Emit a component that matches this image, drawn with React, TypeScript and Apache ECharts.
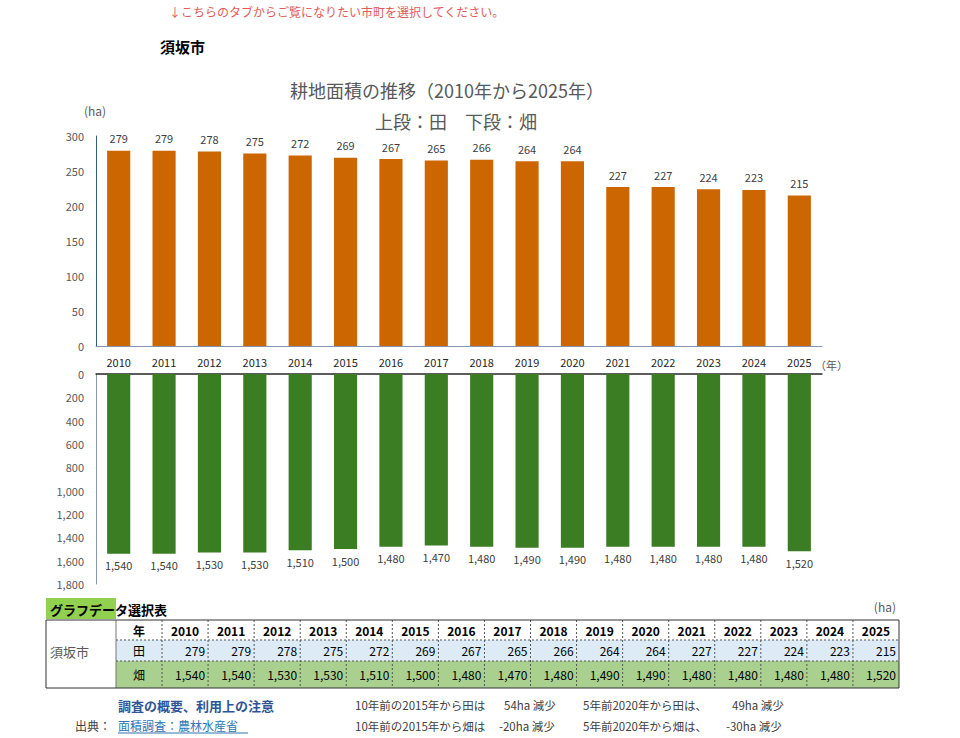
import React, { useEffect, useRef } from "react";
import * as echarts from "echarts";

const years = ["2010","2011","2012","2013","2014","2015","2016","2017","2018","2019","2020","2021","2022","2023","2024","2025"];
const paddy = [279,279,278,275,272,269,267,265,266,264,264,227,227,224,223,215];
const field = [1540,1540,1530,1530,1510,1500,1480,1470,1480,1490,1490,1480,1480,1480,1480,1520];
const upperTicks = { min: 0, max: 300, interval: 50 };
const lowerTicks = { min: 0, max: 1800, interval: 200 };

const cityName = "須坂市";
const noticeText = "↓こちらのタブからご覧になりたい市町を選択してください。";
const titleText = "耕地面積の推移（2010年から2025年）";
const subTitleText = "上段：田　下段：畑";

const FONT = '"Noto Sans CJK JP", "Noto Sans", sans-serif';
const fmt = (v: number) => v.toLocaleString("en-US");

export default function App() {
  const ref = useRef<HTMLDivElement>(null);
  useEffect(() => {
    document.body.style.margin = "0";
    const chart = echarts.init(ref.current!, null, { renderer: "svg" });

    const gridLeft = 96, gridW = 726;
    const g: any[] = [];
    const txt = (x: number, y: number, text: string, font: string, fill: string, align = "left", extra: any = {}) =>
      g.push({ type: "text", x, y, style: { text, font, fill, align, verticalAlign: "middle", ...extra } });

    txt(169, 11, noticeText, `12px ${FONT}`, "#e05a5a");
    txt(160, 46, cityName, `bold 15px ${FONT}`, "#000");
    txt(447, 90, titleText, `18px ${FONT}`, "#595959", "center");
    txt(456, 121, subTitleText, `18px ${FONT}`, "#595959", "center");
    txt(84, 110, "(ha)", `12px ${FONT}`, "#595959");
    txt(815, 365, "（年）", `11px ${FONT}`, "#595959");
    txt(798, 269, "田", `bold 14px ${FONT}`, "#fff", "center");
    txt(798, 460, "畑", `bold 14px ${FONT}`, "#fff", "center");

    // table
    const tTop = 620, r1 = 640, r2 = 661, tBot = 688;
    const xL = 46, xC = 116, xY = 162, xR = 899;
    const colW = (xR - xY) / years.length;
    g.push({ type: "rect", shape: { x: xL, y: 598, width: 70, height: 21 }, style: { fill: "#92d050" } });
    txt(50, 609, "グラフデータ選択表", `bold 13px ${FONT}`, "#000");
    txt(896, 606, "(ha)", `12px ${FONT}`, "#595959", "right");
    g.push({ type: "rect", shape: { x: xC, y: r1, width: xR - xC, height: r2 - r1 }, style: { fill: "#ddebf7" } });
    g.push({ type: "rect", shape: { x: xC, y: r2, width: xR - xC, height: tBot - r2 }, style: { fill: "#a9d08e" } });
    const dash = { stroke: "#555", lineWidth: 1, lineDash: [2, 2] };
    g.push({ type: "line", shape: { x1: xC, y1: r1, x2: xR, y2: r1 }, style: dash });
    g.push({ type: "line", shape: { x1: xC, y1: r2, x2: xR, y2: r2 }, style: dash });
    for (let i = 0; i < years.length; i++) {
      const x = xY + i * colW;
      g.push({ type: "line", shape: { x1: x, y1: tTop, x2: x, y2: tBot }, style: dash });
    }
    g.push({ type: "line", shape: { x1: xC, y1: tTop, x2: xC, y2: tBot }, style: { stroke: "#777", lineWidth: 1 } });
    g.push({ type: "rect", shape: { x: xL, y: tTop, width: xR - xL, height: tBot - tTop }, style: { fill: "none", stroke: "#333", lineWidth: 1 } });
    txt(50, 651, cityName, `13px ${FONT}`, "#595959");
    txt((xC + xY) / 2, (tTop + r1) / 2, "年", `bold 12px ${FONT}`, "#000", "center");
    txt((xC + xY) / 2, (r1 + r2) / 2, "田", `12px ${FONT}`, "#000", "center");
    txt((xC + xY) / 2, (r2 + tBot) / 2, "畑", `12px ${FONT}`, "#000", "center");
    years.forEach((y, i) => {
      const x0 = xY + i * colW;
      txt(x0 + colW / 2, (tTop + r1) / 2, y, `bold 12px ${FONT}`, "#000", "center");
      txt(x0 + colW - 3, (r1 + r2) / 2, String(paddy[i]), `12px ${FONT}`, "#000", "right");
      txt(x0 + colW - 3, (r2 + tBot) / 2, fmt(field[i]), `12px ${FONT}`, "#000", "right");
    });

    // footer
    const idx = (y: string) => years.indexOf(y);
    const last = years.length - 1;
    const p10 = paddy[idx("2015")] - paddy[last];
    const p5 = paddy[idx("2020")] - paddy[last];
    const f10 = field[idx("2015")] - field[last];
    const f5 = field[idx("2020")] - field[last];
    txt(118, 705, "調査の概要、利用上の注意", `bold 13px ${FONT}`, "#2f5597");
    txt(75, 725, "出典：", `12px ${FONT}`, "#404040");
    txt(118, 725, "面積調査：農林水産省", `12px ${FONT}`, "#2e75b6");
    g.push({ type: "line", shape: { x1: 118, y1: 733, x2: 248, y2: 733 }, style: { stroke: "#2e75b6", lineWidth: 1 } });
    const ft = `11.5px ${FONT}`;
    txt(355, 705, "10年前の2015年から田は", ft, "#404040");
    txt(504, 705, `${p10}ha 減少`, ft, "#404040");
    txt(583, 705, "5年前2020年から田は、", ft, "#404040");
    txt(732, 705, `${p5}ha 減少`, ft, "#404040");
    txt(355, 726, "10年前の2015年から畑は", ft, "#404040");
    txt(499, 726, `${f10}ha 減少`, ft, "#404040");
    txt(583, 726, "5年前2020年から畑は、", ft, "#404040");
    txt(726, 726, `${f5}ha 減少`, ft, "#404040");

    chart.setOption({
      animation: false,
      textStyle: { fontFamily: FONT },
      grid: [
        { left: gridLeft, top: 136, width: gridW, height: 210 },
        { left: gridLeft, top: 374, width: gridW, height: 210 },
      ],
      xAxis: [
        {
          type: "category", gridIndex: 0, data: years,
          axisLine: { lineStyle: { color: "#8497b0", width: 1 } },
          axisTick: { show: false },
          axisLabel: { color: "#262626", fontSize: 11, margin: 10, interval: 0 },
        },
        {
          type: "category", gridIndex: 1, data: years, position: "top",
          axisLine: { lineStyle: { color: "#262626", width: 1.5 } },
          axisTick: { show: false },
          axisLabel: { show: false },
        },
      ],
      yAxis: [
        {
          type: "value", gridIndex: 0, ...upperTicks,
          axisLine: { show: true, lineStyle: { color: "#2e5f7f" } },
          splitLine: { show: false },
          axisLabel: { color: "#595959", fontSize: 11, margin: 12 },
        },
        {
          type: "value", gridIndex: 1, ...lowerTicks, inverse: true,
          axisLine: { show: true, lineStyle: { color: "#8497b0" } },
          splitLine: { show: false },
          axisLabel: { color: "#595959", fontSize: 11, margin: 12, formatter: (v: number) => fmt(v) },
        },
      ],
      series: [
        {
          type: "bar", xAxisIndex: 0, yAxisIndex: 0, data: paddy, barWidth: "51%",
          itemStyle: { color: "#cc6600" },
          label: { show: true, position: "top", distance: 7, color: "#404040", fontSize: 11 },
        },
        {
          type: "bar", xAxisIndex: 1, yAxisIndex: 1, data: field, barWidth: "51%",
          itemStyle: { color: "#3a7d22" },
          label: { show: true, position: "bottom", distance: 6, color: "#404040", fontSize: 11, formatter: (p: any) => fmt(p.value) },
        },
      ],
      graphic: g,
    });
    return () => chart.dispose();
  }, []);
  return <div ref={ref} style={{ width: 960, height: 738 }} />;
}
